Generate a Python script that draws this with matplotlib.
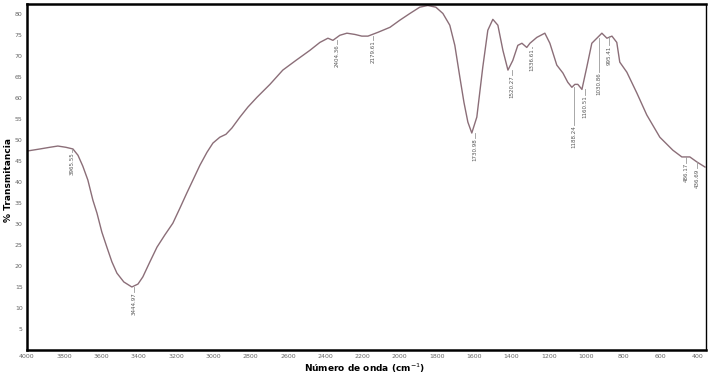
import numpy as np
import matplotlib
matplotlib.use('Agg')
import matplotlib.pyplot as plt

# espectro FTIR
wavenumber = [4000, 3930, 3877, 3834, 3791, 3753, 3726, 3700, 3673, 3646, 3624, 3598,
              3571, 3544, 3517, 3480, 3437, 3404, 3378, 3340, 3302, 3260, 3217, 3179,
              3142, 3109, 3072, 3034, 3002, 2965, 2932, 2900, 2857, 2814, 2766, 2696,
              2627, 2557, 2482, 2428, 2385, 2358, 2321, 2283, 2240, 2203, 2170, 2117,
              2052, 1999, 1945, 1892, 1849, 1806, 1768, 1731, 1704, 1677, 1655, 1634,
              1613, 1586, 1554, 1527, 1500, 1473, 1446, 1419, 1393, 1366, 1344, 1318,
              1301, 1264, 1221, 1194, 1157, 1124, 1098, 1076, 1060, 1044, 1022, 996,
              969, 942, 915, 888, 861, 835, 819, 781, 727, 674, 604, 534, 486, 443,
              405, 362]
transmittance = [47.4, 47.9, 48.3, 48.6, 48.3, 47.9, 46.4, 43.8, 40.5, 35.7, 32.6, 28.1,
                 24.5, 21.0, 18.3, 16.2, 15.0, 15.7, 17.4, 21.0, 24.5, 27.4, 30.2, 33.8,
                 37.4, 40.5, 44.0, 47.1, 49.3, 50.7, 51.4, 52.9, 55.5, 57.9, 60.2, 63.3,
                 66.7, 69.0, 71.4, 73.3, 74.3, 73.8, 75.0, 75.5, 75.2, 74.8, 74.8, 75.7,
                 76.9, 78.6, 80.2, 81.7, 82.1, 81.7, 80.2, 77.4, 72.6, 65.0, 59.0, 54.3,
                 51.7, 55.5, 67.4, 76.2, 78.8, 77.4, 71.4, 66.7, 69.0, 72.6, 73.1, 72.1,
                 73.1, 74.5, 75.5, 73.1, 67.9, 66.0, 63.8, 62.6, 63.3, 63.3, 62.1, 67.4,
                 73.1, 74.3, 75.5, 74.3, 74.8, 73.3, 68.6, 66.2, 61.2, 56.0, 50.7, 47.6,
                 46.0, 46.0, 44.8, 43.6]

# etiquetas de picos
peak_text = ['3965.55', '3444.97', '2404.36', '2179.61', '1730.98', '1520.27', '1336.61',
             '1188.24', '1160.51', '1030.86', '995.41', '486.17', '436.69']
peak_wn = [3759, 3426, 2337, 2144, 1596, 1398, 1291, 1065, 1006, 931, 878, 465, 405]
peak_curve = [47.9, 15.0, 73.8, 74.8, 51.7, 66.7, 72.1, 62.6, 62.1, 74.3, 74.8, 46.0, 44.8]
peak_label = [47.1, 13.8, 72.9, 73.8, 50.5, 65.5, 71.9, 53.6, 60.7, 66.2, 72.6, 44.5, 43.3]

x_ticks = list(range(4000, 399, -200))
y_ticks = list(range(5, 81, 5))

fig = plt.figure(figsize=(7.08, 3.82), dpi=100)
ax = fig.add_axes([0.038, 0.084, 0.959, 0.906])

ax.plot(wavenumber, transmittance, color='#8b6e78', linewidth=1.0)

for txt, wn, yc, yl in zip(peak_text, peak_wn, peak_curve, peak_label):
    ax.plot([wn, wn], [yc, yl], color='#9a9a9a', linewidth=0.6)
    ax.text(wn, yl, txt, rotation=90, ha='center', va='top', fontsize=4,
            color='#555555')

ax.set_xlim(4000, 357)
ax.set_ylim(0, 82.5)
ax.set_xticks(x_ticks)
ax.set_yticks(y_ticks)
ax.tick_params(labelsize=4.5, labelcolor='#666666', length=0, pad=3)

for side in ['left', 'bottom', 'top']:
    ax.spines[side].set_linewidth(1.8)
ax.spines['right'].set_linewidth(1.0)

fig.text(0.012, 0.53, '% Transmitancia', rotation=90, ha='center', va='center',
         fontsize=6.5, fontweight='bold')
fig.text(0.515, 0.018, 'Número de onda (cm$^{-1}$)', ha='center', va='bottom',
         fontsize=6.5, fontweight='bold')

fig.savefig('out.png', dpi=100)
